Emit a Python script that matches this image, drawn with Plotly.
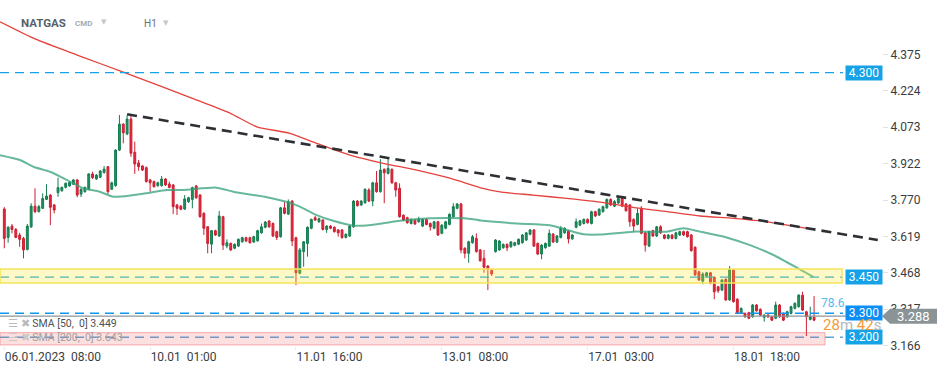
import plotly.graph_objects as go

# ---------------- data ----------------
open_ = [3.733,3.615,3.662,3.648,3.625,3.611,3.565,3.659,3.745,3.722,3.736,3.773,3.791,3.750,3.801,3.809,3.823,3.829,3.836,3.854,
         3.795,3.805,3.815,3.879,3.858,3.865,3.884,3.909,3.815,3.830,3.978,4.086,4.045,4.107,3.969,3.925,3.912,3.905,3.854,3.847,
         3.830,3.830,3.858,3.837,3.833,3.750,3.745,3.733,3.763,3.773,3.829,3.791,3.715,3.659,3.587,3.643,3.621,3.701,3.579,3.590,
         3.570,3.579,3.597,3.614,3.614,3.596,3.601,3.634,3.657,3.683,3.673,3.639,3.618,3.738,3.712,3.766,3.614,3.466,3.556,3.590,
         3.653,3.697,3.680,3.687,3.648,3.662,3.657,3.646,3.646,3.615,3.621,3.659,3.766,3.750,3.759,3.812,3.766,3.842,3.805,3.898,
         3.881,3.898,3.842,3.819,3.707,3.697,3.673,3.687,3.680,3.662,3.690,3.673,3.653,3.680,3.632,3.653,3.669,3.701,3.736,3.754,
         3.570,3.549,3.593,3.611,3.563,3.528,3.496,3.479,3.556,3.563,3.572,3.586,3.576,3.582,3.587,3.593,3.604,3.628,3.646,3.590,
         3.546,3.572,3.579,3.629,3.596,3.615,3.634,3.641,3.609,3.657,3.666,3.673,3.690,3.673,3.722,3.708,3.722,3.738,3.773,3.745,
         3.758,3.777,3.754,3.750,3.690,3.669,3.736,3.634,3.579,3.643,3.621,3.659,3.625,3.611,3.625,3.611,3.625,3.639,3.639,3.625,
         3.574,3.472,3.433,3.454,3.468,3.449,3.410,3.396,3.441,3.355,3.479,3.358,3.302,3.299,3.302,3.285,3.334,3.316,3.283,3.292,
         3.285,3.279,3.334,3.299,3.285,3.299,3.320,3.327,3.375,3.306,3.274,3.283]
high = [3.741,3.662,3.671,3.654,3.634,3.617,3.671,3.757,3.819,3.750,3.798,3.836,3.795,3.754,3.863,3.826,3.844,3.847,3.858,3.858,
        3.819,3.826,3.881,3.888,3.879,3.895,3.912,3.912,3.847,3.982,4.124,4.090,4.124,4.120,4.013,3.937,3.916,3.910,3.858,3.851,
        3.847,3.870,3.862,3.847,3.837,3.754,3.750,3.791,3.784,3.826,3.833,3.795,3.720,3.662,3.646,3.647,3.725,3.705,3.607,3.594,
        3.590,3.611,3.618,3.618,3.618,3.622,3.647,3.673,3.683,3.687,3.677,3.643,3.742,3.763,3.773,3.770,3.618,3.571,3.600,3.661,
        3.693,3.704,3.697,3.691,3.666,3.666,3.661,3.650,3.650,3.632,3.666,3.770,3.770,3.770,3.819,3.820,3.846,3.891,3.940,3.902,
        3.944,3.902,3.846,3.840,3.711,3.701,3.694,3.691,3.701,3.694,3.694,3.677,3.684,3.684,3.670,3.684,3.715,3.757,3.758,3.758,
        3.574,3.601,3.625,3.632,3.567,3.563,3.500,3.483,3.608,3.604,3.590,3.590,3.600,3.597,3.611,3.629,3.638,3.650,3.650,3.594,
        3.587,3.594,3.648,3.633,3.625,3.662,3.657,3.645,3.629,3.694,3.688,3.694,3.694,3.726,3.726,3.736,3.747,3.777,3.777,3.770,
        3.788,3.781,3.758,3.754,3.694,3.736,3.745,3.638,3.643,3.647,3.663,3.666,3.629,3.629,3.629,3.638,3.643,3.643,3.643,3.629,
        3.578,3.476,3.470,3.472,3.472,3.453,3.414,3.442,3.445,3.496,3.483,3.362,3.324,3.303,3.306,3.338,3.338,3.320,3.296,3.296,
        3.289,3.348,3.338,3.303,3.310,3.331,3.345,3.379,3.389,3.310,3.327,3.371]
low = [3.570,3.593,3.632,3.612,3.576,3.528,3.561,3.654,3.716,3.719,3.733,3.771,3.666,3.715,3.784,3.805,3.819,3.826,3.833,3.782,
       3.783,3.801,3.812,3.858,3.854,3.862,3.881,3.795,3.812,3.826,3.974,4.006,4.040,3.950,3.879,3.892,3.891,3.843,3.805,3.822,
       3.826,3.826,3.829,3.819,3.712,3.708,3.728,3.729,3.759,3.736,3.775,3.697,3.625,3.549,3.549,3.621,3.617,3.563,3.570,3.559,
       3.566,3.575,3.593,3.596,3.589,3.592,3.597,3.630,3.653,3.655,3.617,3.604,3.614,3.711,3.708,3.579,3.417,3.462,3.493,3.535,
       3.649,3.683,3.676,3.644,3.634,3.649,3.635,3.618,3.610,3.611,3.617,3.655,3.743,3.746,3.755,3.762,3.745,3.801,3.801,3.757,
       3.877,3.838,3.784,3.697,3.683,3.672,3.669,3.667,3.676,3.658,3.665,3.643,3.649,3.621,3.628,3.649,3.665,3.697,3.732,3.549,
       3.528,3.510,3.589,3.552,3.514,3.468,3.396,3.455,3.552,3.559,3.568,3.558,3.572,3.578,3.583,3.589,3.600,3.624,3.575,3.542,
       3.524,3.568,3.575,3.592,3.592,3.611,3.630,3.590,3.605,3.653,3.662,3.669,3.672,3.669,3.700,3.704,3.718,3.734,3.746,3.741,
       3.754,3.741,3.722,3.659,3.639,3.665,3.628,3.556,3.575,3.617,3.617,3.630,3.607,3.607,3.607,3.607,3.621,3.621,3.614,3.556,
       3.455,3.434,3.420,3.450,3.420,3.358,3.384,3.392,3.351,3.351,3.344,3.298,3.298,3.281,3.275,3.281,3.306,3.288,3.265,3.281,
       3.267,3.275,3.281,3.267,3.281,3.295,3.316,3.323,3.309,3.205,3.270,3.267]
close = [3.611,3.657,3.648,3.615,3.607,3.563,3.662,3.745,3.722,3.743,3.777,3.787,3.740,3.729,3.822,3.823,3.840,3.844,3.854,3.791,
         3.815,3.823,3.879,3.863,3.874,3.891,3.899,3.805,3.842,3.978,4.086,4.050,4.107,3.965,3.920,3.909,3.895,3.847,3.842,3.826,
         3.842,3.858,3.833,3.823,3.743,3.736,3.732,3.775,3.780,3.822,3.780,3.701,3.653,3.590,3.643,3.625,3.704,3.583,3.593,3.563,
         3.586,3.607,3.614,3.600,3.593,3.618,3.643,3.659,3.679,3.659,3.621,3.615,3.738,3.715,3.763,3.600,3.468,3.563,3.597,3.657,
         3.690,3.687,3.693,3.648,3.662,3.653,3.639,3.634,3.614,3.628,3.662,3.766,3.747,3.766,3.815,3.766,3.842,3.805,3.895,3.884,
         3.902,3.842,3.812,3.701,3.687,3.676,3.690,3.671,3.691,3.690,3.669,3.659,3.680,3.625,3.666,3.680,3.711,3.743,3.754,3.563,
         3.549,3.597,3.618,3.556,3.518,3.491,3.482,3.463,3.604,3.600,3.586,3.572,3.596,3.593,3.607,3.625,3.634,3.646,3.579,3.546,
         3.583,3.590,3.632,3.596,3.621,3.653,3.653,3.609,3.625,3.680,3.684,3.690,3.676,3.722,3.704,3.732,3.743,3.773,3.750,3.764,
         3.777,3.745,3.726,3.680,3.662,3.715,3.632,3.583,3.639,3.621,3.659,3.634,3.611,3.625,3.611,3.634,3.639,3.625,3.618,3.560,
         3.459,3.438,3.463,3.468,3.424,3.389,3.393,3.438,3.355,3.482,3.348,3.302,3.320,3.285,3.279,3.334,3.310,3.292,3.292,3.285,
         3.271,3.334,3.285,3.271,3.306,3.327,3.341,3.375,3.313,3.285,3.285,3.271]
bar_index = list(range(len(open_)))

sma50_x = [-1.1, 4.1, 7.6, 11.9, 16.3, 20.6, 24.9, 28.4, 33.6, 38.0, 42.3, 46.6, 55.3, 59.7, 68.4, 74.4, 77.0, 81.4, 85.7,
           90.9, 94.4, 98.7, 103.1, 110.1, 120.5, 124.8, 133.5, 142.2, 146.6, 150.9, 155.2, 163.9, 172.6, 176.9, 181.3,
           188.2, 194.3, 200.4, 207.3, 210.8]
sma50_y = [3.957, 3.937, 3.909, 3.888, 3.854, 3.819, 3.805, 3.784, 3.791, 3.801, 3.812, 3.812, 3.822, 3.805, 3.782, 3.759,
           3.743, 3.708, 3.684, 3.664, 3.665, 3.674, 3.684, 3.694, 3.694, 3.684, 3.673, 3.666, 3.646, 3.628, 3.627, 3.639,
           3.639, 3.653, 3.639, 3.615, 3.583, 3.542, 3.482, 3.451]
sma200_x = [-1.1, 8.0, 19.7, 31.7, 50.2, 58.8, 65.8, 74.4, 81.4, 90.1, 98.7, 107.5, 116.1, 124.7, 129.2, 137.8, 146.6,
            155.2, 163.8, 172.7, 181.3, 189.9, 198.7, 210.7]
sma200_y = [4.511, 4.440, 4.369, 4.298, 4.186, 4.132, 4.075, 4.048, 4.006, 3.957, 3.923, 3.895, 3.861, 3.819, 3.804, 3.791,
            3.777, 3.762, 3.740, 3.722, 3.704, 3.694, 3.680, 3.649]

tick_idx = [0, 38, 76, 114, 152, 190]
tick_text = ["06.01.2023\u00a0\u00a008:00", "10.01\u00a0\u00a001:00", "11.01\u00a0\u00a016:00",
             "13.01\u00a0\u00a008:00", "17.01\u00a0\u00a003:00", "18.01\u00a0\u00a018:00"]
y_ticks = [4.375, 4.224, 4.073, 3.922, 3.770, 3.619, 3.468, 3.317, 3.166]

level_high = 4.300
level_mid = 3.450
level_low = 3.300
level_floor = 3.200
yellow_zone = (3.425, 3.484)
pink_zone = (3.168, 3.219)
trend_x = [32, 227.6]
trend_y = [4.127, 3.604]
last_price = 3.288
sma50_last = 3.449
sma200_last = 3.643

# ---------------- figure ----------------
PW, PH = 882.0, 346.0          # plot area size in px (for paper positions)
def px(x):
    return x / PW
def py(y):
    return 1 - y / PH

FONT = "Roboto"
BLUE = "#16a2e6"

fig = go.Figure()
fig.add_trace(go.Scatter(x=sma200_x, y=sma200_y, mode="lines", hoverinfo="skip",
                         line=dict(color="#e5403c", width=1.3, shape="spline", smoothing=0.6)))
fig.add_trace(go.Scatter(x=sma50_x, y=sma50_y, mode="lines", hoverinfo="skip",
                         line=dict(color="rgba(52,160,120,0.75)", width=2, shape="spline", smoothing=0.6)))
fig.add_trace(go.Candlestick(x=bar_index, open=open_, high=high, low=low, close=close,
                             whiskerwidth=0,
                             increasing=dict(fillcolor="#1f9160", line=dict(color="#167c50", width=1)),
                             decreasing=dict(fillcolor="#e12a3d", line=dict(color="#cc1f33", width=1))))

shapes = []
dash = "9px,6px"
for lv, col in [(level_high, BLUE), (level_mid, BLUE), (level_low, "#0f96ee"), (level_floor, "#5aa6d8")]:
    shapes.append(dict(type="line", xref="paper", yref="y", x0=0, x1=px(843), y0=lv, y1=lv,
                       line=dict(color=col, width=1.4, dash=dash), layer="above"))
# current price line
shapes.append(dict(type="line", xref="paper", yref="y", x0=0, x1=1, y0=last_price, y1=last_price,
                   line=dict(color="#8d9599", width=1.2), layer="above"))
# zones
shapes.append(dict(type="rect", xref="paper", yref="y", x0=0, x1=px(842), y0=yellow_zone[0], y1=yellow_zone[1],
                   fillcolor="rgba(255,232,40,0.26)", line=dict(color="#f7e35a", width=1.5), layer="above"))
shapes.append(dict(type="rect", xref="paper", yref="y", x0=0, x1=px(825), y0=pink_zone[0], y1=pink_zone[1],
                   fillcolor="rgba(240,80,80,0.18)", line=dict(color="rgba(240,120,120,0.6)", width=1), layer="above"))
# trend line
shapes.append(dict(type="line", xref="x", yref="y", x0=trend_x[0], x1=trend_x[1], y0=trend_y[0], y1=trend_y[1],
                   line=dict(color="#2c3034", width=2.6, dash="10px,6px"), layer="above"))
# last price tag (pointed box)
yc, hh = py(316.3), 7.5 / PH
shapes.append(dict(type="path", xref="paper", yref="paper",
                   path=f"M 1.0 {yc} L {px(890)} {yc+hh} L {px(937)} {yc+hh} L {px(937)} {yc-hh} L {px(890)} {yc-hh} Z",
                   fillcolor="#8a9396", line=dict(width=0), layer="above"))

annotations = []
def tag(val, col, ypos=None):
    annotations.append(dict(xref="paper", yref="y", x=px(845), y=val if ypos is None else ypos, xanchor="left",
                            yanchor="middle", text=f"{val:.3f}", showarrow=False, bgcolor=col, width=36, height=14,
                            borderpad=0, font=dict(family=FONT, size=12, color="white")))
tag(level_high, BLUE)
tag(level_mid, BLUE)
tag(level_low, "#0b8ef5")
tag(level_floor, BLUE)
annotations.append(dict(xref="paper", yref="paper", x=px(913), y=py(316.5), xanchor="center", yanchor="middle",
                        text=f"{last_price:.3f}", showarrow=False, font=dict(family=FONT, size=13, color="white")))
annotations.append(dict(xref="paper", yref="paper", x=px(819), y=py(303), xanchor="left", yanchor="middle",
                        text="78.6", showarrow=False, font=dict(family=FONT, size=12, color="#55b9ef")))
annotations.append(dict(xref="paper", yref="paper", x=px(821), y=py(325), xanchor="left", yanchor="middle",
                        text="<span style='color:#f59a38'>28</span><span style='color:#b3b8bc'>m</span> "
                             "<span style='color:#f59a38'>42</span><span style='color:#b3b8bc'>s</span>",
                        showarrow=False, font=dict(family=FONT, size=15)))
# title
annotations += [
    dict(xref="paper", yref="paper", x=px(19), y=py(23), xanchor="left", yanchor="middle", showarrow=False,
         text="<b>NATGAS</b>", font=dict(family=FONT, size=11.5, color="#56626b")),
    dict(xref="paper", yref="paper", x=px(73), y=py(24), xanchor="left", yanchor="middle", showarrow=False,
         text="<b>CMD</b>", font=dict(family=FONT, size=8, color="#a3abb1")),
    dict(xref="paper", yref="paper", x=px(99), y=py(22), xanchor="left", yanchor="middle", showarrow=False,
         text="▼", font=dict(family="DejaVu Sans", size=7, color="#c3c8cc")),
    dict(xref="paper", yref="paper", x=px(142), y=py(23), xanchor="left", yanchor="middle", showarrow=False,
         text="H1", font=dict(family=FONT, size=10, color="#68727a")),
    dict(xref="paper", yref="paper", x=px(161), y=py(23), xanchor="left", yanchor="middle", showarrow=False,
         text="▼", font=dict(family="DejaVu Sans", size=7, color="#c3c8cc")),
]
# indicator legend
annotations += [
    dict(xref="paper", yref="paper", x=px(6), y=py(323), xanchor="left", yanchor="middle", showarrow=False,
         text=f"<span style='color:#b9bcbf'>☰ ✖</span> SMA [50,\u00a0 0] {sma50_last:.3f}",
         font=dict(family=FONT, size=10.5, color="#4e5256")),
    dict(xref="paper", yref="paper", x=px(6), y=py(337), xanchor="left", yanchor="middle", showarrow=False,
         text=f"<span style='color:#c8c8c8'>☰ ✖</span> SMA [200,\u00a0 0] {sma200_last:.3f}",
         font=dict(family=FONT, size=10.5, color="#a0a0a0")),
]

fig.update_layout(
    width=949, height=370, margin=dict(l=0, r=67, t=0, b=24),
    paper_bgcolor="white", plot_bgcolor="white", showlegend=False,
    shapes=shapes, annotations=annotations,
    xaxis=dict(range=[-1.12, 228.7], tickmode="array", tickvals=tick_idx, ticktext=tick_text,
               ticklabelposition="outside right", showgrid=False, zeroline=False, showline=False,
               ticks="outside", ticklen=3, tickcolor="#e8e8e8",
               tickfont=dict(family=FONT, size=12, color="#3a3d40"), rangeslider=dict(visible=False)),
    yaxis=dict(range=[3.1636, 4.602], side="right", tickmode="array", tickvals=y_ticks,
               ticktext=[f"{v:.3f}" for v in y_ticks], showgrid=False, zeroline=False, showline=False,
               ticks="outside", ticklen=5, tickcolor="#e0e0e0",
               tickfont=dict(family=FONT, size=12, color="#3a3d40")),
)

fig.write_html("out.html", config={"displayModeBar": False},
               post_script="document.body.style.margin='0';document.body.style.overflow='hidden';")
